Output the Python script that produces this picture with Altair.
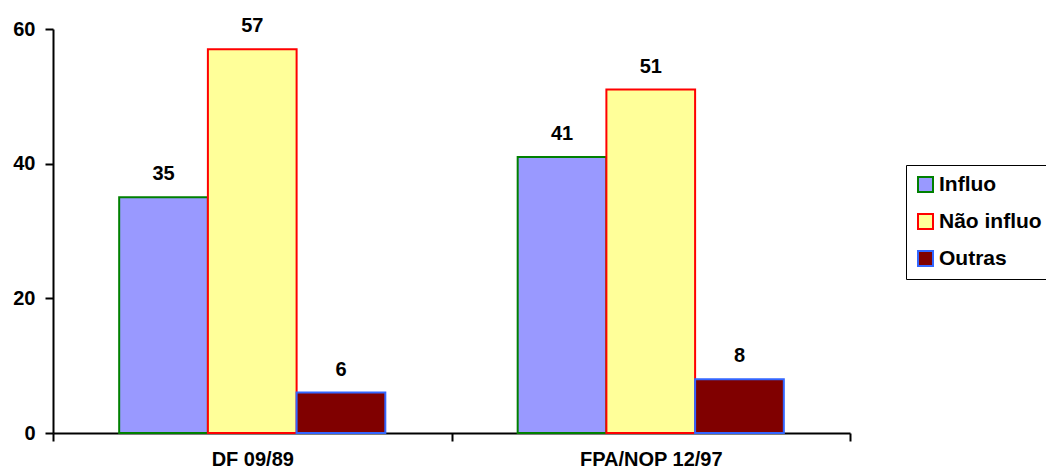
import altair as alt
import pandas as pd

categories = ["DF 09/89", "FPA/NOP 12/97"]
series = ["Influo", "Não influo", "Outras"]
influo = [35, 41]
nao_influo = [57, 51]
outras = [6, 8]
y_ticks = [0, 20, 40, 60]

fills = ["#9999FF", "#FFFF99", "#800000"]
strokes = ["#008000", "#FF0000", "#3366FF"]

rows = []
for i, c in enumerate(categories):
    for s, vals in zip(series, [influo, nao_influo, outras]):
        rows.append({"cat": c, "series": s, "value": vals[i]})
df = pd.DataFrame(rows)

FONT = "Liberation Sans"

legend_cfg = dict(
    title=None,
    orient="none",
    legendX=853,
    legendY=136,
    symbolType="square",
    symbolSize=225,
    symbolStrokeWidth=2,
    symbolOpacity=1,
    labelFont=FONT,
    labelFontSize=21,
    labelFontWeight="bold",
    labelColor="black",
    labelLimit=300,
    rowPadding=14,
    padding=9,
    strokeColor="black",
    fillColor="white",
    labelOffset=3,
)

x_enc = alt.X(
    "cat:N",
    sort=categories,
    title=None,
    scale=alt.Scale(paddingInner=0, paddingOuter=0),
    axis=alt.Axis(
        labelAngle=0,
        labelFont=FONT,
        labelFontSize=20,
        labelFontWeight="bold",
        labelColor="black",
        labelPadding=8,
        domainColor="black",
        domainWidth=2,
        tickColor="black",
        tickWidth=2,
        tickSize=8,
        tickBand="extent",
        grid=False,
    ),
)
xoff_enc = alt.XOffset(
    "series:N", sort=series, scale=alt.Scale(paddingOuter=0.746, paddingInner=0)
)
y_enc = alt.Y(
    "value:Q",
    title=None,
    scale=alt.Scale(domain=[0, 60], nice=False),
    axis=alt.Axis(
        values=y_ticks,
        labelFont=FONT,
        labelFontSize=20,
        labelFontWeight="bold",
        labelColor="black",
        labelPadding=10,
        domainColor="black",
        domainWidth=2,
        tickColor="black",
        tickWidth=2,
        tickSize=8,
        grid=False,
    ),
)

bars = alt.Chart(df).mark_bar(strokeWidth=2, opacity=1).encode(
    x=x_enc,
    xOffset=xoff_enc,
    y=y_enc,
    fill=alt.Fill(
        "series:N",
        sort=series,
        scale=alt.Scale(domain=series, range=fills),
        legend=alt.Legend(**legend_cfg),
    ),
    stroke=alt.Stroke(
        "series:N",
        sort=series,
        scale=alt.Scale(domain=series, range=strokes),
        legend=alt.Legend(**legend_cfg),
    ),
)

labels = alt.Chart(df).mark_text(
    font=FONT, fontSize=20, fontWeight="bold", color="black",
    baseline="alphabetic", dy=-17,
).encode(
    x=alt.X("cat:N", sort=categories),
    xOffset=alt.XOffset("series:N", sort=series),
    y="value:Q",
    text="value:Q",
)

chart = (
    alt.layer(bars, labels)
    .properties(
        width=797,
        height=404,
        padding={"left": 45, "top": 21, "right": 196, "bottom": 38},
        autosize=alt.AutoSizeParams(type="none"),
        background="white",
    )
    .configure_view(stroke=None)
)

chart.save("out.html", embed_options={"renderer": "svg", "actions": False})
